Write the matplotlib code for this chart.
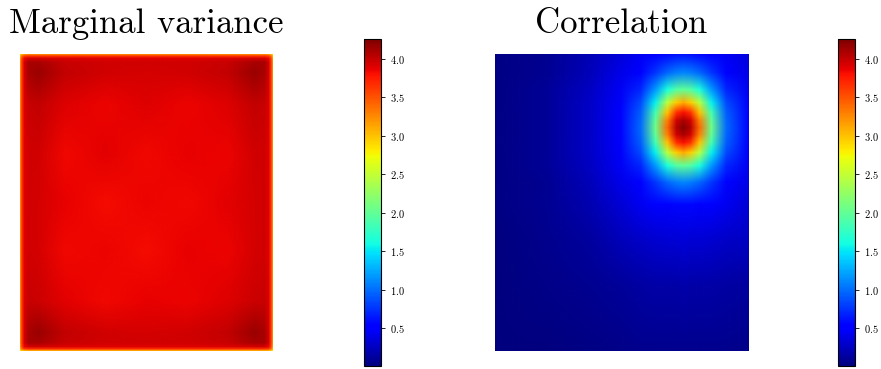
import numpy as np
import matplotlib
matplotlib.use("Agg")
import matplotlib.pyplot as plt
from matplotlib.image import NonUniformImage
from matplotlib.colors import Normalize

plt.rcParams['font.family'] = 'cmr10'
plt.rcParams['axes.formatter.use_mathtext'] = True

titles = ['Marginal variance', 'Correlation']
vmin, vmax = 0.01, 4.26
cbar_ticks = [0.5, 1.0, 1.5, 2.0, 2.5, 3.0, 3.5, 4.0]

# marginal variance, values at grid nodes (x, y in image pixels, y downwards)
var_x = [0, 1.5, 4, 8, 18, 45, 85, 126, 167, 207, 234, 244, 248, 250.5, 252]
var_y = [0, 1.5, 4, 8, 18, 50, 100, 148, 196, 246, 278, 288, 292, 294.5, 296]
var_vals = [
    [2.95, 3.10, 3.25, 3.30, 3.30, 3.30, 3.30, 3.30, 3.30, 3.30, 3.30, 3.30, 3.25, 3.10, 2.95],
    [3.10, 3.40, 3.60, 3.65, 3.65, 3.65, 3.65, 3.65, 3.65, 3.65, 3.65, 3.65, 3.60, 3.40, 3.10],
    [3.25, 3.60, 3.85, 3.95, 3.95, 3.92, 3.90, 3.90, 3.90, 3.92, 3.95, 3.95, 3.85, 3.60, 3.25],
    [3.30, 3.65, 3.95, 4.10, 4.10, 3.98, 3.95, 3.95, 3.95, 3.98, 4.10, 4.10, 3.95, 3.65, 3.30],
    [3.30, 3.65, 3.95, 4.10, 4.15, 4.00, 3.95, 3.93, 3.95, 4.00, 4.15, 4.10, 3.95, 3.65, 3.30],
    [3.30, 3.65, 3.92, 3.98, 4.00, 3.90, 3.86, 3.90, 3.85, 3.90, 4.00, 3.98, 3.92, 3.65, 3.30],
    [3.30, 3.65, 3.90, 3.96, 3.95, 3.84, 3.88, 3.83, 3.87, 3.86, 3.95, 3.96, 3.90, 3.65, 3.30],
    [3.30, 3.65, 3.90, 3.95, 3.94, 3.87, 3.82, 3.86, 3.83, 3.88, 3.93, 3.95, 3.90, 3.65, 3.30],
    [3.30, 3.65, 3.90, 3.96, 3.93, 3.83, 3.86, 3.82, 3.87, 3.85, 3.94, 3.96, 3.90, 3.65, 3.30],
    [3.30, 3.65, 3.92, 3.98, 3.97, 3.88, 3.84, 3.87, 3.85, 3.90, 3.97, 3.98, 3.92, 3.65, 3.30],
    [3.30, 3.65, 3.95, 4.10, 4.15, 4.00, 3.95, 3.94, 3.95, 4.00, 4.15, 4.10, 3.95, 3.65, 3.30],
    [3.30, 3.65, 3.95, 4.10, 4.10, 3.98, 3.95, 3.95, 3.95, 3.98, 4.10, 4.10, 3.95, 3.65, 3.30],
    [3.25, 3.60, 3.85, 3.95, 3.95, 3.92, 3.90, 3.90, 3.90, 3.92, 3.95, 3.95, 3.85, 3.60, 3.25],
    [3.10, 3.40, 3.60, 3.65, 3.65, 3.65, 3.65, 3.65, 3.65, 3.65, 3.65, 3.65, 3.60, 3.40, 3.10],
    [2.90, 3.00, 3.10, 3.15, 3.15, 3.15, 3.15, 3.15, 3.15, 3.15, 3.15, 3.15, 3.10, 3.00, 2.90],
]

# correlation with one point, values at grid nodes
corr_x = [0, 50, 95, 125, 145, 160, 172, 181, 188, 195, 204, 216, 231, 253]
corr_y = [0, 18, 35, 48, 58, 66, 73, 80, 88, 98, 111, 128, 150, 185, 230, 296]
corr_vals = [
    [0.03, 0.09, 0.21, 0.35, 0.45, 0.52, 0.59, 0.62, 0.63, 0.62, 0.59, 0.52, 0.45, 0.36],
    [0.04, 0.09, 0.24, 0.40, 0.54, 0.76, 0.96, 1.07, 1.10, 1.07, 0.96, 0.76, 0.54, 0.40],
    [0.04, 0.10, 0.26, 0.45, 0.70, 1.18, 1.65, 1.92, 2.00, 1.92, 1.65, 1.18, 0.70, 0.44],
    [0.04, 0.10, 0.28, 0.47, 0.85, 1.55, 2.45, 2.95, 3.10, 2.95, 2.45, 1.55, 0.85, 0.47],
    [0.04, 0.10, 0.28, 0.49, 0.93, 1.85, 3.00, 3.65, 3.80, 3.65, 3.00, 1.85, 0.93, 0.48],
    [0.04, 0.10, 0.28, 0.50, 0.97, 2.00, 3.30, 3.95, 4.10, 3.95, 3.30, 2.00, 0.97, 0.49],
    [0.04, 0.10, 0.28, 0.50, 0.98, 2.06, 3.40, 4.05, 4.22, 4.05, 3.40, 2.06, 0.98, 0.49],
    [0.04, 0.10, 0.28, 0.50, 0.97, 2.00, 3.30, 3.95, 4.10, 3.95, 3.30, 2.00, 0.97, 0.49],
    [0.04, 0.10, 0.28, 0.49, 0.93, 1.85, 3.00, 3.65, 3.80, 3.65, 3.00, 1.85, 0.93, 0.48],
    [0.04, 0.10, 0.28, 0.47, 0.85, 1.55, 2.45, 2.95, 3.10, 2.95, 2.45, 1.55, 0.85, 0.47],
    [0.04, 0.10, 0.26, 0.45, 0.70, 1.18, 1.65, 1.92, 2.00, 1.92, 1.65, 1.18, 0.70, 0.44],
    [0.04, 0.09, 0.24, 0.40, 0.54, 0.76, 0.96, 1.07, 1.10, 1.07, 0.96, 0.76, 0.54, 0.40],
    [0.03, 0.09, 0.20, 0.33, 0.43, 0.50, 0.54, 0.56, 0.57, 0.56, 0.54, 0.50, 0.43, 0.34],
    [0.02, 0.06, 0.14, 0.23, 0.28, 0.31, 0.33, 0.34, 0.35, 0.34, 0.33, 0.31, 0.29, 0.27],
    [0.02, 0.05, 0.09, 0.12, 0.15, 0.16, 0.17, 0.17, 0.18, 0.17, 0.17, 0.16, 0.15, 0.13],
    [0.01, 0.02, 0.04, 0.05, 0.06, 0.06, 0.06, 0.06, 0.06, 0.06, 0.06, 0.06, 0.06, 0.05],
]

W, H = 881, 369
fig = plt.figure(figsize=(W / 100, H / 100), dpi=100)
norm = Normalize(vmin=vmin, vmax=vmax)

panels = [
    (var_x, var_y, var_vals, [20, 55, 252, 296], [364, 39, 17, 327]),
    (corr_x, corr_y, corr_vals, [495, 55, 253, 296], [838, 39, 17, 327]),
]

for title, (xs, ys, vals, box, cbox) in zip(titles, panels):
    ax = fig.add_axes([box[0] / W, 1 - (box[1] + box[3]) / H, box[2] / W, box[3] / H])
    im = NonUniformImage(ax, interpolation='bilinear', cmap='jet', norm=norm,
                         extent=(xs[0], xs[-1], ys[0], ys[-1]))
    im.set_data(np.array(xs, float), np.array(ys, float), np.array(vals))
    ax.add_image(im)
    ax.set_xlim(xs[0], xs[-1])
    ax.set_ylim(ys[-1], ys[0])
    ax.set_axis_off()
    ax.set_title(title, fontsize=25, pad=16)

    cax = fig.add_axes([cbox[0] / W, 1 - (cbox[1] + cbox[3]) / H, cbox[2] / W, cbox[3] / H])
    cb = fig.colorbar(im, cax=cax, ticks=cbar_ticks)
    cb.ax.tick_params(labelsize=7.5, length=3, width=0.6)
    cb.outline.set_linewidth(0.8)

fig.savefig('out.png', dpi=100)
